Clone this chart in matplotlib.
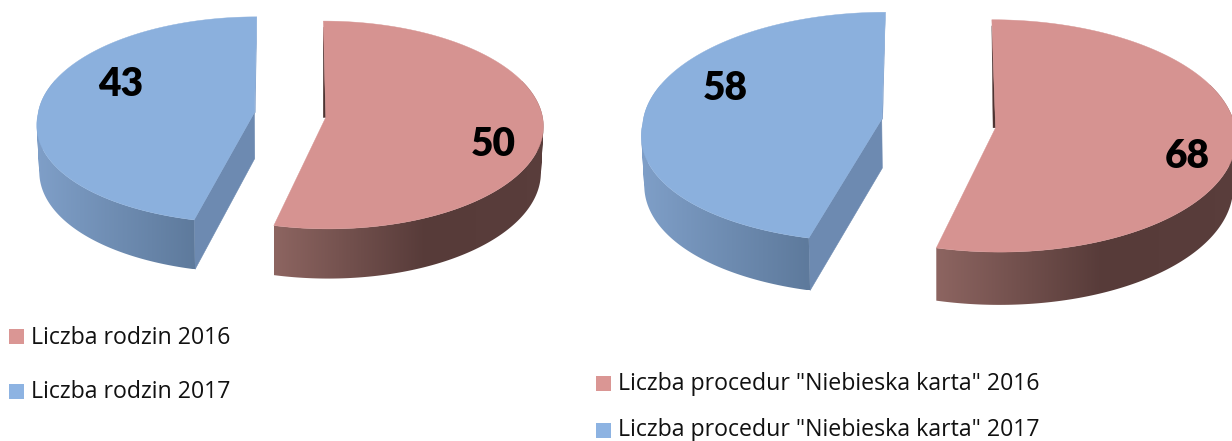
import numpy as np
import matplotlib
matplotlib.use("Agg")
import matplotlib.pyplot as plt
from matplotlib.patches import PathPatch
from matplotlib.path import Path
from matplotlib.colors import to_rgb

families_values = [50, 43]
families_labels = ["Liczba rodzin 2016", "Liczba rodzin 2017"]
procedures_values = [68, 58]
procedures_labels = ['Liczba procedur "Niebieska karta" 2016',
                     'Liczba procedur "Niebieska karta" 2017']

RED_TOP, BLUE_TOP = "#D69391", "#8BB0DD"
RED_LEG, BLUE_LEG = "#DA9694", "#8DB3E2"
RED_WALL = ["#8D6561", "#573B39", "#5A3E3C"]
BLUE_WALL = ["#7F9FC8", "#5E7A9C"]
BLUE_CUT = "#6D8AB1"
BLUE_EDGE = "#7C9CC8"
RED_CUT = "#4E3432"

fig = plt.figure(figsize=(12.32, 4.41), dpi=100)
ax = fig.add_axes([0, 0, 1, 1])


def ramp(t, stops):
    t = np.clip(t, 0, 1) * (len(stops) - 1)
    i = min(int(t), len(stops) - 2)
    a, b = np.array(to_rgb(stops[i])), np.array(to_rgb(stops[i + 1]))
    return a + (b - a) * (t - i)


def project(X, Z, g, lower=False, q=0.0):
    s = 1 / (1 - g["p"] * Z)
    k = g["shrink"] if lower else 1.0
    x = g["cx"] + g["a"] * X * s * k * (1 + q * np.maximum(Z, 0))
    y = g["cy"] + g["b"] * Z * s + (g["h"] * s if lower else 0)
    return x, y


def wedge(start, end, g):
    mid = np.radians((start + end) / 2)
    ex = g["e"] * np.sin(mid)
    ez = -g["ez"] * np.cos(mid)
    th = np.radians(np.linspace(start, end, 240))
    return (ex, ez), ex + np.sin(th), ez - np.cos(th)


def gradient_wall(xt, yt, xb, yb, lo, hi, stops):
    verts, codes = [], []
    for i in range(len(xt) - 1):
        q = np.array([(xt[i], yt[i]), (xt[i + 1], yt[i + 1]),
                      (xb[i + 1], yb[i + 1]), (xb[i], yb[i])])
        area = np.sum(q[:, 0] * np.roll(q[:, 1], -1) - np.roll(q[:, 0], -1) * q[:, 1])
        if area < 0:
            q = q[::-1]
        verts.extend(q.tolist() + [q[0].tolist()])
        codes.extend([Path.MOVETO, Path.LINETO, Path.LINETO, Path.LINETO, Path.CLOSEPOLY])
    verts = np.array(verts)
    x0, x1 = verts[:, 0].min(), verts[:, 0].max()
    y0, y1 = verts[:, 1].min(), verts[:, 1].max()
    xs = np.linspace(x0, x1, 400)
    img = np.array([[ramp((x - lo) / (hi - lo), stops) for x in xs]])
    im = ax.imshow(img, extent=(x0, x1, y1, y0), aspect="auto",
                   interpolation="bilinear", zorder=3)
    patch = PathPatch(Path(verts, codes), transform=ax.transData, fc="none", ec="none")
    ax.add_patch(patch)
    im.set_clip_path(patch)


def draw_pie(values, g):
    total = sum(values)
    sweep = 360 * values[0] / total

    # blue wedge
    q = g["q"]
    (ex, ez), X, Z = wedge(sweep, 360, g)
    xt, yt = project(X, Z, g, q=q)
    xb, yb = project(X, Z, g, lower=True, q=q)
    ax0, ay0 = project(ex, ez, g)
    ax1, ay1 = project(ex, ez, g, lower=True)
    ax.fill([ax0, ax1, xb[0], xt[0]], [ay0, ay1, yb[0], yt[0]],
            color=BLUE_CUT, lw=0.4, zorder=2)
    ax.fill([xt[-1], ax0 + 1, ax0], [yt[-1], ay0, ay0], color=BLUE_EDGE, lw=0.2, zorder=2)
    idx = np.where(Z > -0.35)[0]
    gradient_wall(xt[idx], yt[idx], xb[idx], yb[idx], xt.min(), xt[0], BLUE_WALL)
    ax.fill(np.r_[ax0, xt], np.r_[ay0, yt], color=BLUE_TOP, lw=0.3, zorder=4)

    # red wedge
    (ex, ez), X, Z = wedge(0, sweep, g)
    xt, yt = project(X, Z, g)
    xb, yb = project(X, Z, g, lower=True)
    ax0, ay0 = project(ex, ez, g)
    ax.fill([xt[0], ax0, ax0 - 2.5], [yt[0] + 6, ay0, ay0], color=RED_CUT, lw=0.3, zorder=2)
    idx = np.where(Z > -0.35)[0]
    gradient_wall(xt[idx], yt[idx], xb[idx], yb[idx], xt[-1], xt[-1] + 1.4 * g["a"], RED_WALL)
    ax.fill(np.r_[ax0, xt], np.r_[ay0, yt], color=RED_TOP, lw=0.3, zorder=4)


def value_label(v, x, y):
    ax.text(x, y, str(v), ha="center", va="center", family="Lato",
            fontweight="heavy", fontsize=28, color="black", zorder=6)


def legend_entry(label, color, xs, xt, y, dy=1.5):
    ax.fill([xs, xs + 15, xs + 15, xs], [y - 7.5, y - 7.5, y + 7.5, y + 7.5],
            color=color, lw=0, zorder=5)
    ax.text(xt, y + dy, label, ha="left", va="center", family="Open Sans",
            fontsize=16.65, color="#111111", zorder=6)


left = dict(cx=290, cy=115, a=216.5, b=103, p=0.0725, h=46, shrink=0.99, e=0.166, ez=0.2, q=0.035)
right = dict(cx=938.5, cy=123.5, a=239, b=115, p=0.0696, h=49, shrink=0.99, e=0.24, ez=0.3, q=0.05)

draw_pie(families_values, left)
draw_pie(procedures_values, right)

value_label(families_values[1], 121, 85)
value_label(families_values[0], 493, 144)
value_label(procedures_values[1], 725, 89)
value_label(procedures_values[0], 1187, 156)

legend_entry(families_labels[0], RED_LEG, 9, 31, 336)
legend_entry(families_labels[1], BLUE_LEG, 9, 31, 391)
legend_entry(procedures_labels[0], RED_LEG, 596, 618, 383)
legend_entry(procedures_labels[1], BLUE_LEG, 596, 618, 430, dy=-0.5)

ax.set_xlim(0, 1232)
ax.set_ylim(441, 0)
ax.axis("off")

fig.savefig("out.png", dpi=100, facecolor="white")
